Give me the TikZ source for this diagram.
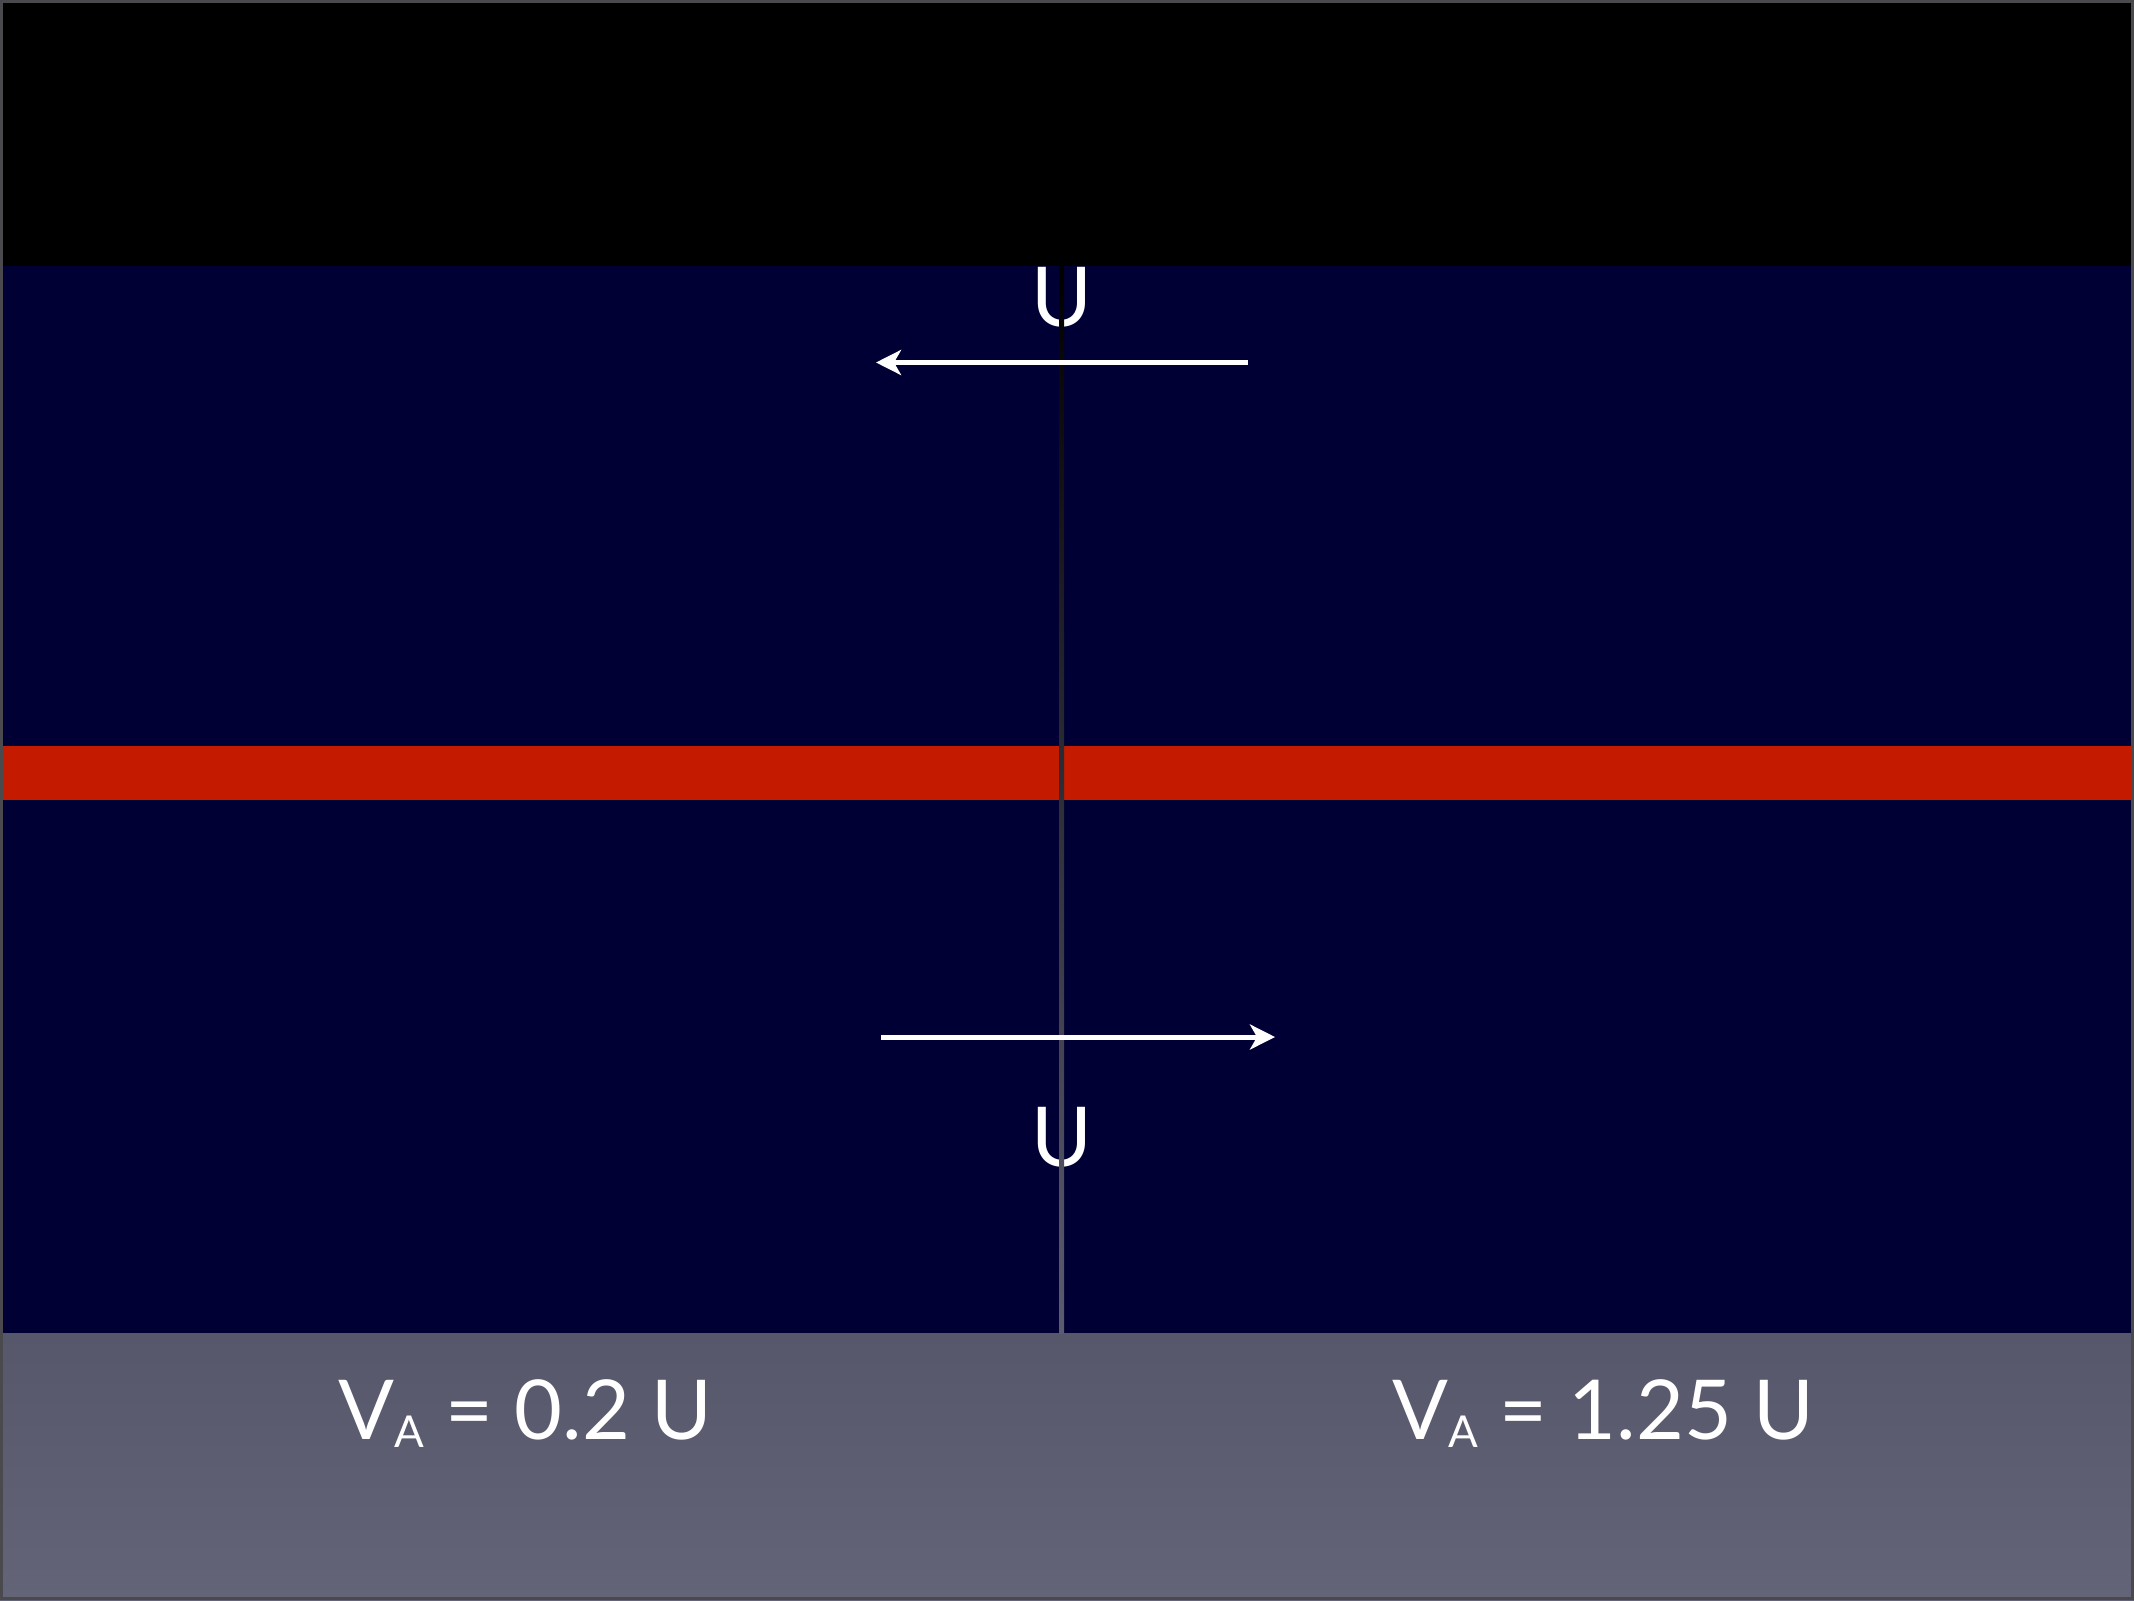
\documentclass[tikz,border=0pt]{standalone}
\usepackage{fontspec}
\setmainfont{Lato}
\usetikzlibrary{arrows.meta}
\definecolor{navy}{HTML}{000034}
\definecolor{redband}{HTML}{C41A00}
\definecolor{graytop}{HTML}{56576A}
\definecolor{graybot}{HTML}{636477}
\definecolor{linebot}{HTML}{5C5C70}
\definecolor{framec}{HTML}{4A4A4E}
\tikzset{
  flowarrow/.style={draw=white, line width=0.05cm, -{Stealth[length=0.25cm,width=0.25cm,inset=0.07cm]}},
  ulabel/.style={text=white, font=\fontsize{23.5}{26}\selectfont, inner sep=0pt},
  vlabel/.style={text=white, font=\fontsize{23.5}{26}\selectfont, inner sep=0pt, anchor=base west},
}
\newcommand{\subA}{\raisebox{-0.08cm}{\fontsize{12.5}{13}\selectfont A}}
\begin{document}
\begin{tikzpicture}[x=0.01cm,y=-0.01cm]
\useasboundingbox (0,0) rectangle (2134,1600);
% backgrounds
\fill[navy] (0,266) rectangle (2134,1333);
\shade[top color=graytop, bottom color=graybot] (0,1333) rectangle (2134,1600);
\fill[redband] (0,746) rectangle (2134,800);
% U labels
\node[ulabel, anchor=south] (utop) at (1061.5,328) {U};
\node[ulabel, anchor=south] (ubot) at (1061.5,1168) {U};
% top black band
\fill[black] (0,0) rectangle (2134,266);
% vertical line
\shade[top color=black, bottom color=linebot] (1059,266) rectangle (1064,1333);
% arrows
\coordinate (a1s) at (1248,362.5);
\coordinate (a1e) at (876,362.5);
\coordinate (a2s) at (881,1037);
\coordinate (a2e) at (1275,1037);
\draw[flowarrow] (a1s) -- (a1e);
\draw[flowarrow] (a2s) -- (a2e);
% bottom texts
\node[vlabel] (vleft) at (338,1439) {V\subA{} = 0.2 U};
\node[vlabel] (vright) at (1392,1439) {V\subA{} = 1.25 U};
% frame
\draw[framec, line width=0.025cm] (1.5,1.5) rectangle (2132.5,1598.5);
\end{tikzpicture}
\end{document}
